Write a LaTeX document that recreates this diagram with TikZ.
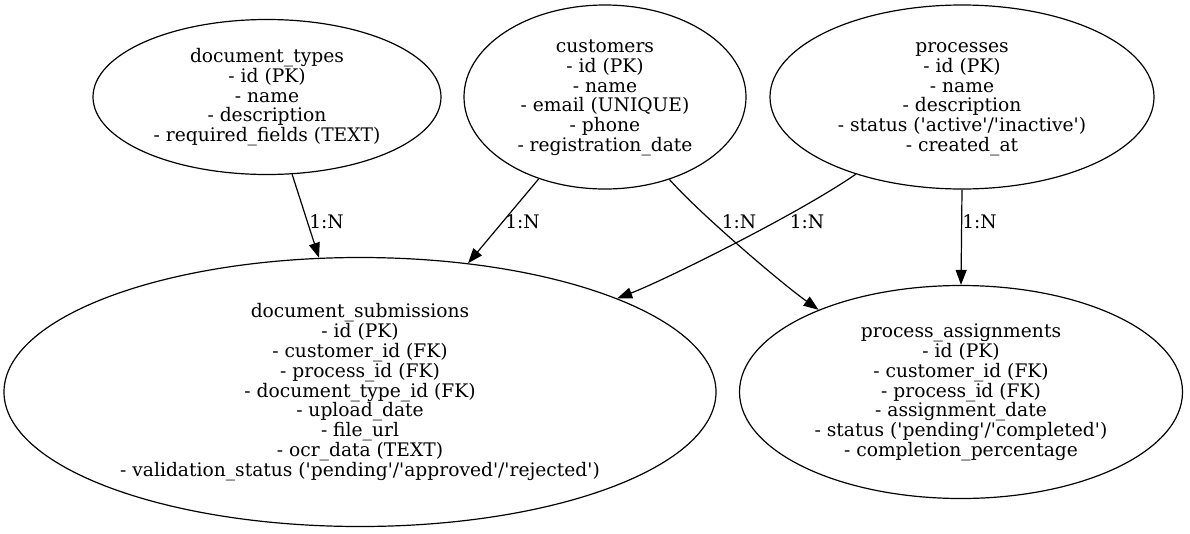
\documentclass[tikz,border=0pt]{standalone}
\usepackage{fontspec}
\setmainfont{DejaVu Serif}[Ligatures=TeXOff]
\usetikzlibrary{shapes.geometric,arrows.meta}
\newcommand\topstrut{\rule{0pt}{16pt}}
\newcommand\botstrut{\rule[-6pt]{0pt}{6pt}}
\tikzstyle{entity} = [ellipse, draw=black, line width=1.2pt, inner sep=0pt, align=center, font=\fontsize{18.67}{19.9}\selectfont]
\tikzstyle{cardlabel} = [inner sep=0pt, font=\fontsize{18.67}{19.9}\selectfont]
\tikzstyle{arrow} = [line width=1.2pt,-{Triangle[length=15pt,width=11pt]}]

\begin{document}
\begin{tikzpicture}[x=1pt,y=-1pt]
\useasboundingbox (0,0) rectangle (1190,533);
\node (DocTypes)[entity, minimum width=348pt, minimum height=155pt] at (267,97) {\topstrut document\_types\\- id (PK)\\- name\\- description\\- required\_fields (TEXT)\botstrut};
\node (Customers)[entity, minimum width=282pt, minimum height=184pt] at (605,97) {\topstrut customers\\- id (PK)\\- name\\- email (UNIQUE)\\- phone\\- registration\_date\botstrut};
\node (Processes)[entity, minimum width=384pt, minimum height=184pt] at (962,97) {\topstrut processes\\- id (PK)\\- name\\- description\\- status ('active'/'inactive')\\- created\_at\botstrut};
\node (DocSub)[entity, minimum width=712pt, minimum height=269pt] at (360,392) {\topstrut document\_submissions\\- id (PK)\\- customer\_id (FK)\\- process\_id (FK)\\- document\_type\_id (FK)\\- upload\_date\\- file\_url\\- ocr\_data (TEXT)\\- validation\_status ('pending'/'approved'/'rejected')\botstrut};
\node (ProcAssign)[entity, minimum width=443pt, minimum height=213pt] at (961,392) {\topstrut process\_assignments\\- id (PK)\\- customer\_id (FK)\\- process\_id (FK)\\- assignment\_date\\- status ('pending'/'completed')\\- completion\_percentage\botstrut};
\draw [arrow](DocTypes.-72) -- (DocSub.107);
\draw [arrow](Customers.231) -- (DocSub.50);
\draw [arrow](Customers.-52) .. controls (699,213) and (781,283) .. (ProcAssign.150);
\draw [arrow](Processes.216) .. controls (800,213) and (665,280) .. (DocSub.20);
\draw [arrow](Processes.south) -- (ProcAssign.north);
\node (LblTypes)[cardlabel] at (326.5,222) {1:N};
\node (LblCustSub)[cardlabel] at (522.5,222) {1:N};
\node (LblCustAssign)[cardlabel] at (739,222) {1:N};
\node (LblProcSub)[cardlabel] at (807,222) {1:N};
\node (LblProcAssign)[cardlabel] at (979.5,222) {1:N};
\end{tikzpicture}
\end{document}
